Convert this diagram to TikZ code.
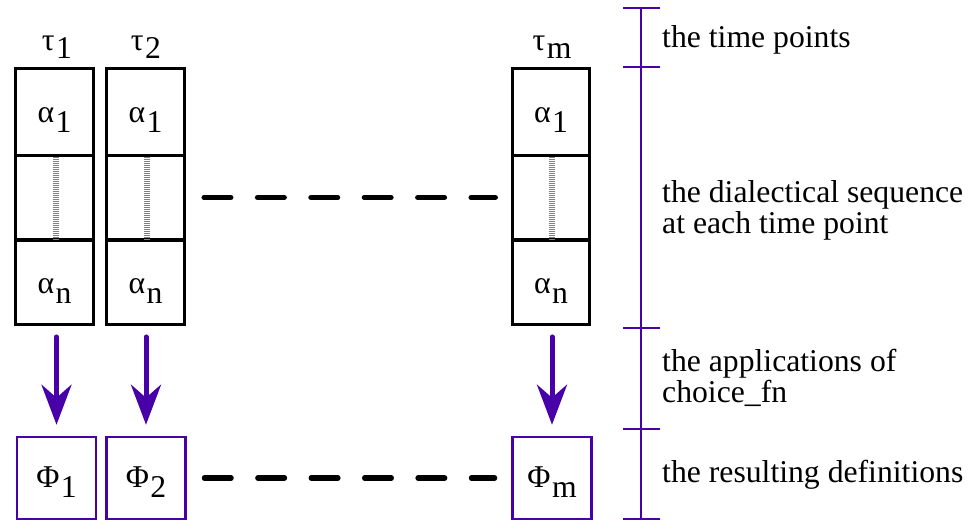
\documentclass[tikz,border=0pt]{standalone}
\usepackage{fontspec}
\newfontfamily\lbs{Liberation Serif}
\usetikzlibrary{arrows.meta}
\definecolor{indig}{RGB}{72,0,168}
\newcommand{\lsub}[3]{#1\kern1.4pt\raisebox{-#3pt}{#2}}
\begin{document}
\begin{tikzpicture}[x=0.9464pt,y=-0.9464pt,
  cell/.style={draw=black,line width=2.84pt,minimum width=72.9pt,inner sep=0pt},
  phibox/.style={draw=indig,line width=2.37pt,minimum width=74.8pt,minimum height=77.6pt,inner sep=0pt},
  lab/.style={inner sep=0pt,anchor=base,font=\lbs\fontsize{30}{29}\selectfont},
  rlab/.style={inner sep=0pt,anchor=base west,align=left,font=\lbs\fontsize{30}{28.9}\selectfont},
  dots/.style={draw=gray,line width=5.68pt,dash pattern=on 0.95pt off 0.95pt},
  dline/.style={line width=5.02pt,line cap=round,dash pattern=on 25.27pt off 25.27pt},
  arr/.style={draw=indig,line width=4.73pt,line cap=round,-{Stealth[length=37.9pt,width=28.4pt,inset=12.3pt]}},
  scl/.style={draw=indig,line width=2.37pt}]
\useasboundingbox (0,0) rectangle (971,524);
% columns
\foreach \n/\x in {1/54.5,2/145.5,m/551}{
  \node[cell,minimum height=81.4pt] (a\n) at (\x,112) {};
  \node[cell,minimum height=80.4pt] (b\n) at (\x,197.5) {};
  \node[cell,minimum height=80.4pt] (c\n) at (\x,282.5) {};
}
\foreach \n/\x in {1/56.5,2/146,m/552}{
  \node[phibox] (p\n) at (\x,478) {};
}
% dotted fill
\foreach \n/\x in {1/56,2/146.5,m/552}{
  \draw[dots] (\x,157) -- (\x,240);
}
% labels
\node[lab] (t1) at (57,50) {\lsub{τ}{1}{7.6}};
\node[lab] (t2) at (146,50) {\lsub{τ}{2}{7.6}};
\node[lab] (tm) at (552,50) {\lsub{τ}{m}{7.6}};
\foreach \n/\x in {1/54.5,2/145.5,m/551}{
  \node[lab] (la\n) at (\x,122.7) {\lsub{α}{1}{9.5}};
  \node[lab] (lc\n) at (\x,293) {\lsub{α}{n}{9.5}};
}
\node[lab] (lp1) at (56.5,487) {\lsub{Φ}{1}{10.4}};
\node[lab] (lp2) at (146,487) {\lsub{Φ}{2}{10.4}};
\node[lab] (lpm) at (552,487) {\lsub{Φ}{m}{10.4}};
% arrows
\foreach \n in {1,2,m}{
  \draw[arr,shorten <=9.9pt,shorten >=10.4pt] (p\n.north |- c\n.south) -- (p\n.north);
}
% dashed connectors
\draw[dline,shorten <=17.6pt,shorten >=14.8pt] (b2.east) -- (bm.west);
\draw[dline,shorten <=16.7pt,shorten >=15.7pt] (p2.east) -- (pm.west);
% scale
\coordinate (s0) at (641,8);
\coordinate (s1) at (641,67);
\coordinate (s2) at (641,328);
\coordinate (s3) at (641,429);
\coordinate (s4) at (641,519);
\draw[scl] (s0) -- (s4);
\foreach \s in {s0,s1,s2,s3,s4}{
  \draw[scl] ([xshift=-17pt]\s) -- ([xshift=18pt]\s);
}
\node[rlab] (r1) at (662,47) {the time points};
\node[rlab] (r2) at (662,233.5) {the dialectical sequence\\at each time point};
\node[rlab] (r3) at (662,402) {the applications of\\choice\_fn};
\node[rlab] (r4) at (662,482) {the resulting definitions};
\end{tikzpicture}
\end{document}
